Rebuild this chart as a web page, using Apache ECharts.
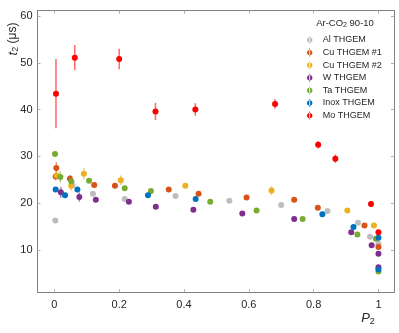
<!DOCTYPE html>
<html>
<head>
<meta charset="utf-8">
<script src="https://cdn.jsdelivr.net/npm/echarts@6/dist/echarts.min.js"></script>
<style>html,body{margin:0;padding:0;background:#fff}#c{width:399px;height:333px}</style>
</head>
<body>
<div id="c"></div>
<script>
// ---- data (P2, t2, error) ----
const seriesNames = ['Al THGEM','Cu THGEM #1','Cu THGEM #2','W THGEM','Ta THGEM','Inox THGEM','Mo THGEM'];
const alP  = [0.003,0.056,0.119,0.217,0.374,0.540,0.700,0.843,0.937,0.974,1.0];
const alT  = [16.3,23.9,22.0,20.9,21.5,20.5,19.6,18.3,15.8,12.8,11.3];
const alE  = [0.3,0.3,0.3,0.3,0.3,0.3,0.3,0.3,0.3,0.3,0.3];
const cu1P = [0.006,0.004,0.048,0.123,0.187,0.353,0.445,0.593,0.740,0.813,0.957,1.0];
const cu1T = [27.5,25.7,25.2,23.9,23.7,22.9,22.0,21.2,20.7,19.0,15.2,10.6];
const cu1E = [1.3,0.8,0.8,0.3,0.3,0.3,0.3,0.3,0.3,0.3,0.3,0.3];
const cu2P = [0.007,0.052,0.091,0.205,0.404,0.670,0.904,0.986];
const cu2T = [25.9,23.7,26.3,24.9,23.7,22.7,18.4,15.2];
const cu2E = [0.8,1.0,1.2,1.0,0.3,1.0,0.3,0.3];
const wP   = [0.020,0.077,0.128,0.230,0.313,0.429,0.580,0.740,0.916,0.979,1.0,1.0];
const wT   = [22.3,21.3,20.7,20.3,19.2,18.6,17.8,16.6,13.8,11.0,9.2,6.3];
const wE   = [1.2,1.0,0.3,0.3,0.3,0.3,0.3,0.3,0.3,0.3,0.3,0.3];
const taP  = [0.002,0.0185,0.052,0.107,0.217,0.298,0.481,0.624,0.766,0.935,0.992,1.0];
const taT  = [30.5,25.6,24.7,24.8,23.2,22.6,20.3,18.4,16.6,13.3,12.4,5.4];
const taE  = [0.3,1.2,1.2,0.3,0.3,0.3,0.3,0.3,0.3,0.3,0.3,0.3];
const inoxP = [0.004,0.033,0.071,0.289,0.436,0.827,0.923,1.0,1.0];
const inoxT = [22.9,21.7,22.9,21.7,20.9,17.6,14.9,12.6,5.8];
const inoxE = [0.3,0.3,0.6,0.3,0.3,0.3,0.3,0.3,0.3];
const moP  = [0.005,0.063,0.200,0.312,0.435,0.681,0.814,0.867,0.977,1.0];
const moT  = [43.4,51.1,50.8,39.6,40.0,41.2,32.5,29.5,19.8,13.8];
const moE  = [7.4,2.7,2.2,1.85,1.35,1.05,0.8,0.9,0.5,0.4];
const xTicks = [0,0.2,0.4,0.6,0.8,1];
const yTicks = [10,20,30,40,50,60];

const colors = ['#bdbdbd','#D95319','#EDB120','#7E2F8E','#77AC30','#0072BD','#FF0000'];
const groups = [[alP,alT,alE],[cu1P,cu1T,cu1E],[cu2P,cu2T,cu2E],[wP,wT,wE],[taP,taT,taE],[inoxP,inoxT,inoxE],[moP,moT,moE]];

const series = [];
groups.forEach((g,i)=>{
  const d = g[0].map((p,k)=>[p,g[1][k],g[2][k]]);
  series.push({
    type:'custom', name:'err'+i, data:d, z:1, silent:true,
    renderItem:function(params, api){
      const x=api.value(0), y=api.value(1), e=api.value(2);
      const a=api.coord([x,y+e]), b=api.coord([x,y-e]);
      return {type:'line', shape:{x1:a[0],y1:a[1],x2:b[0],y2:b[1]},
        style:{stroke:colors[i], lineWidth:1.5, opacity:0.6}};
    }
  });
  series.push({
    type:'scatter', name:seriesNames[i], data:d.map(v=>[v[0],v[1]]),
    symbol:'circle', symbolSize:6, z:2,
    itemStyle:{color:colors[i], opacity:1}
  });
});

const axisCol = '#808080';
const lblCol = '#262626';
const iconPath = 'path://M2.6,0h0.8v8h-0.8z M0.3,4a2.7,2.7 0 1,0 5.4,0a2.7,2.7 0 1,0 -5.4,0z';
const font = 'Liberation Sans, Arial';

const chart = echarts.init(document.getElementById('c'), null, {renderer:'canvas'});
chart.setOption({
  animation:false,
  backgroundColor:'#fff',
  grid:{left:37.5, right:5, top:10.7, bottom:40.7},
  xAxis:[{
    type:'value', min:-0.052, max:1.048, position:'bottom',
    axisLine:{onZero:false, lineStyle:{color:axisCol, width:1}},
    axisTick:{inside:true, length:3, customValues:xTicks, lineStyle:{color:'#b0b0b0'}},
    axisLabel:{customValues:xTicks, color:lblCol, fontSize:11, fontFamily:font, margin:7,
      formatter:v=>String(Math.round(v*10)/10)},
    splitLine:{show:false}
  },{
    type:'value', min:-0.052, max:1.048, position:'top',
    axisLine:{show:true, onZero:false, lineStyle:{color:axisCol, width:1}},
    axisTick:{inside:true, length:3, customValues:xTicks, lineStyle:{color:'#b0b0b0'}},
    axisLabel:{show:false}, splitLine:{show:false}
  }],
  yAxis:[{
    type:'value', min:0.94, max:61.13, position:'left',
    axisLine:{show:true, onZero:false, lineStyle:{color:axisCol, width:1}},
    axisTick:{show:true, inside:true, length:3, customValues:yTicks, lineStyle:{color:'#b0b0b0'}},
    axisLabel:{customValues:yTicks, color:lblCol, fontSize:11, fontFamily:font, margin:5},
    splitLine:{show:false}
  },{
    type:'value', min:0.94, max:61.13, position:'right',
    axisLine:{show:true, onZero:false, lineStyle:{color:axisCol, width:1}},
    axisTick:{show:true, inside:true, length:3, customValues:yTicks, lineStyle:{color:'#b0b0b0'}},
    axisLabel:{show:false}, splitLine:{show:false}
  }],
  legend:{
    data:seriesNames.map(n=>({name:n, icon:iconPath})),
    orient:'vertical', left:307, top:35, padding:0,
    itemWidth:6, itemHeight:8, itemGap:2.6,
    textStyle:{fontSize:9, lineHeight:10, color:lblCol, fontFamily:font, padding:[0,0,0,5]},
    selectedMode:false
  },
  graphic:[
    {type:'text', x:345, y:23, style:{
      text:'{a|Ar-CO}{s|2}{a| 90-10}', align:'center', verticalAlign:'middle',
      rich:{a:{fontSize:9.5, fontFamily:font, fill:lblCol},
            s:{fontSize:7, fontFamily:font, fill:lblCol, padding:[5,0,0,0]}}}},
    {type:'text', x:13, y:39, rotation:Math.PI/2, style:{
      text:'{i|t}{s|2}{n| (μs)}', align:'center', verticalAlign:'middle',
      rich:{i:{fontSize:13, fontStyle:'italic', fontFamily:font, fill:lblCol},
            s:{fontSize:9, fontFamily:font, fill:lblCol, padding:[6,0,0,0]},
            n:{fontSize:12, fontFamily:font, fill:lblCol}}}},
    {type:'text', x:368, y:318, style:{
      text:'{i|P}{s|2}', align:'center', verticalAlign:'middle',
      rich:{i:{fontSize:13, fontStyle:'italic', fontFamily:font, fill:lblCol},
            s:{fontSize:9, fontFamily:font, fill:lblCol, padding:[7,0,0,0]}}}}
  ],
  series:series
});
</script>
</body>
</html>
